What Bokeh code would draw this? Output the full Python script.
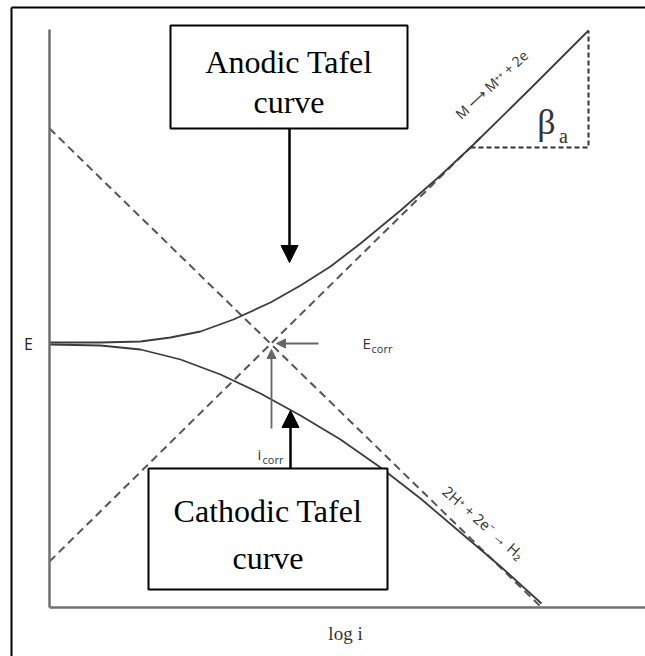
from bokeh.plotting import figure
from bokeh.models import Range1d, LinearAxis, FixedTicker, Arrow, NormalHead
from bokeh.core.properties import value
from bokeh.embed import file_html
from bokeh.resources import INLINE

# ---- data (arbitrary units: log i, E) ----
anodic_logi = [0, 5.1, 9.1, 12.1, 15.1, 18.4, 22.1, 25.1, 28.1, 31.1, 35.1, 39.1, 42.1, 48.1, 53.9]
anodic_E = [26.5, 26.5, 26.6, 27.0, 27.6, 28.8, 30.5, 32.2, 34.1, 36.4, 39.7, 43.2, 46.0, 51.9, 57.7]

cathodic_logi = [0, 5.1, 9.1, 13.1, 17.1, 21.1, 25.1, 29.1, 33.1, 37.1, 41.1, 45.1, 49.2]
cathodic_E = [26.3, 26.2, 25.8, 24.8, 23.3, 21.4, 19.2, 16.8, 14.0, 10.9, 7.5, 4.1, 0.4]

anodic_tafel_logi = [0, 43.1]
anodic_tafel_E = [4.6, 47.0]
cathodic_tafel_logi = [0, 49.1]
cathodic_tafel_E = [47.9, 0.1]

beta_logi = [42.1, 53.9, 53.9]
beta_E = [46.0, 46.0, 57.7]

ecorr_logi = 22.1
ecorr_E = 26.4

axis_E_max = 57.8
axis_logi_max = 59.6

# ---- figure ----
p = figure(width=645, height=656, output_backend="svg", toolbar_location=None,
           x_axis_type=None, y_axis_type=None,
           x_range=Range1d(-3.8, 59.6), y_range=Range1d(-4.9, 60.0),
           min_border_left=11, min_border_right=0, min_border_top=7, min_border_bottom=0)
p.outline_line_color = None
p.background_fill_color = "white"
p.border_fill_color = "white"


def bare_axis(color, width, **kw):
    return LinearAxis(ticker=FixedTicker(ticks=[]), axis_line_color=color, axis_line_width=width,
                      major_tick_line_color=None, minor_tick_line_color=None,
                      major_tick_out=0, major_tick_in=0, minor_tick_out=0, minor_tick_in=0,
                      major_label_standoff=0, major_label_text_font_size="0px", **kw)


# document frame (left and top edges only)
p.add_layout(bare_axis("black", 2), "left")
p.add_layout(bare_axis("black", 2), "above")

# diagram axes: E (vertical) and log i (horizontal)
ax_col = "#707070"
p.add_layout(bare_axis(ax_col, 2.5, fixed_location=0, bounds=(0, axis_logi_max)), "below")
p.add_layout(bare_axis(ax_col, 2.5, fixed_location=0, bounds=(0, axis_E_max)), "left")

dash_col = "#555555"
p.line(anodic_tafel_logi, anodic_tafel_E, line_color=dash_col, line_width=2, line_dash="8 5")
p.line(cathodic_tafel_logi, cathodic_tafel_E, line_color=dash_col, line_width=2, line_dash="8 5")
p.line(beta_logi, beta_E, line_color="#333333", line_width=2, line_dash="5 3")

curve_col = "#3c3c3c"
p.line(anodic_logi, anodic_E, line_color=curve_col, line_width=1.8)
p.line(cathodic_logi, cathodic_E, line_color=curve_col, line_width=1.8)

# Ecorr / icorr pointers
p.add_layout(Arrow(end=NormalHead(size=9, fill_color="#666666", line_color="#666666"),
                   x_start=ecorr_logi + 4.8, y_start=ecorr_E, x_end=ecorr_logi + 0.6, y_end=ecorr_E,
                   line_color="#666666", line_width=1.8))
p.add_layout(Arrow(end=NormalHead(size=9, fill_color="#666666", line_color="#666666"),
                   x_start=ecorr_logi + 0.1, y_start=ecorr_E - 8.5, x_end=ecorr_logi + 0.1, y_end=ecorr_E - 0.6,
                   line_color="#666666", line_width=1.8))

# labelled boxes
p.quad(left=[12.1], right=[35.8], top=[58.2], bottom=[47.9],
       fill_color="white", line_color="black", line_width=2)
p.quad(left=[9.9], right=[33.8], top=[13.9], bottom=[1.8],
       fill_color="white", line_color="black", line_width=2)

serif = value("Liberation Serif")
sans = value("Open Sans")
p.text(x=[23.95, 23.95], y=[54.6, 50.6], text=["Anodic Tafel", "curve"],
       text_font=serif, text_font_size="32px", text_align="center", text_baseline="middle",
       text_color="black")
p.text(x=[21.85, 21.85], y=[9.7, 5.0], text=["Cathodic Tafel", "curve"],
       text_font=serif, text_font_size="32px", text_align="center", text_baseline="middle",
       text_color="black")

p.add_layout(Arrow(end=NormalHead(size=17, fill_color="black", line_color="black"),
                   x_start=24.0, y_start=47.9, x_end=24.0, y_end=34.5,
                   line_color="black", line_width=2.5))
p.add_layout(Arrow(end=NormalHead(size=17, fill_color="black", line_color="black"),
                   x_start=24.1, y_start=13.9, x_end=24.1, y_end=19.7,
                   line_color="black", line_width=2.5))

# axis labels
p.text(x=[-2.1], y=[26.4], text=["E"], text_font=sans, text_font_size="16px",
       text_align="center", text_baseline="middle", text_color="#222222")
p.text(x=[29.6], y=[-2.6], text=["log i"], text_font=serif, text_font_size="19px",
       text_align="center", text_baseline="middle", text_color="#333333")

# Ecorr / icorr labels
p.text(x=[31.3], y=[26.5], text=["E"], text_font=sans, text_font_size="15px",
       text_align="left", text_baseline="middle", text_color="#333333")
p.text(x=[32.2], y=[25.9], text=["corr"], text_font=sans, text_font_size="11px",
       text_align="left", text_baseline="middle", text_color="#333333")
p.text(x=[20.8], y=[15.4], text=["i"], text_font=sans, text_font_size="15px",
       text_align="left", text_baseline="middle", text_color="#333333")
p.text(x=[21.3], y=[14.8], text=["corr"], text_font=sans, text_font_size="11px",
       text_align="left", text_baseline="middle", text_color="#333333")

# reaction labels along the Tafel lines
p.text(x=[44.2], y=[52.3], text=["M \u27f6 M\u207a\u207a + 2e"], angle=0.75,
       text_font=sans, text_font_size="14px", text_align="center", text_baseline="middle",
       text_color="#333333")
p.text(x=[43.4], y=[8.5], text=["2H\u207a + 2e\u207b \u2192 H\u2082"], angle=-0.72,
       text_font=sans, text_font_size="15px", text_align="center", text_baseline="middle",
       text_color="#333333")

# beta_a label
p.text(x=[49.7], y=[48.6], text=["\u03b2"], text_font=serif, text_font_size="36px",
       text_align="center", text_baseline="middle", text_color="#333333")
p.text(x=[51.4], y=[47.2], text=["a"], text_font=serif, text_font_size="20px",
       text_align="center", text_baseline="middle", text_color="#333333")

open("out.html", "w").write(file_html(p, INLINE))
